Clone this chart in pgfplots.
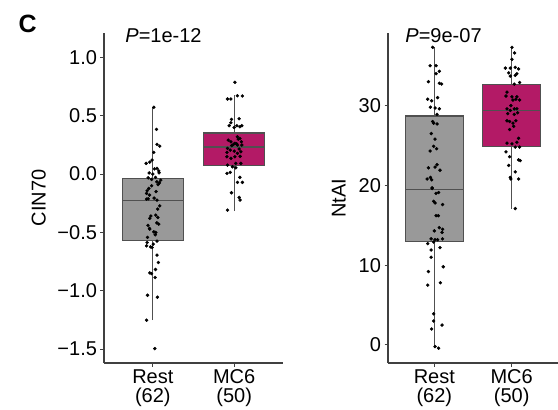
\documentclass[border=0pt]{standalone}
\usepackage{fontspec}
\setmainfont{Liberation Sans}
\usepackage{pgfplots}
\pgfplotsset{compat=1.18}
\usepgfplotslibrary{statistics}

\definecolor{boxgray}{HTML}{999999}
\definecolor{boxedge}{HTML}{505050}
\definecolor{mcpink}{HTML}{B31A66}
\definecolor{axiscol}{HTML}{404040}
\newcommand\ff{\fontsize{20bp}{19bp}\selectfont}

\pgfplotsset{
  panel/.style={
    scale only axis,
    height=330bp,
    xmin=0.4, xmax=2.6,
    axis x line*=bottom, axis y line*=left,
    axis line style={line width=1.2bp, axiscol, -},
    tick align=outside,
    major tick length=3.5bp,
    tick style={line width=1bp, axiscol},
    xtick={1,2},
    xticklabels={{Rest\\(62)},{MC6\\(50)}},
    xticklabel style={align=center, font=\ff},
    yticklabel style={font=\ff},
    ylabel style={font=\ff, anchor=center},
    clip=false,
    boxplot/draw direction=y,
  },
  bx/.style={draw=boxedge, line width=1.1bp},
  pts/.style={only marks, mark=*, mark size=1.5bp, black},
}

\begin{document}
\begin{tikzpicture}
\useasboundingbox (-104bp,-47bp) rectangle (454bp,363bp);
\node[anchor=base west, font=\fontsize{25bp}{25bp}\selectfont\bfseries] at (-89bp,330bp) {C};

% left panel: CIN70
\begin{axis}[panel, width=179bp,
  ymin=-1.62, ymax=1.21,
  ytick={-1.5,-1,-0.5,0,0.5,1},
  yticklabels={−1.5,−1.0,−0.5,0.0,0.5,1.0},
  ylabel={CIN70},
  ylabel style={at={(axis description cs:-0.365,0.5)}},
]
\addplot[bx, fill=boxgray, boxplot prepared={draw position=1, box extend=0.75, whisker extend=0,
  lower whisker=-1.253, lower quartile=-0.567, median=-0.223,
  upper quartile=-0.034, upper whisker=0.575}] coordinates {};
\addplot[bx, fill=mcpink, boxplot prepared={draw position=2, box extend=0.75, whisker extend=0,
  lower whisker=-0.318, lower quartile=0.077, median=0.232,
  upper quartile=0.352, upper whisker=0.678}] coordinates {};
% Rest (62)
\addplot[pts] coordinates {
  (1.012,0.573) (1.045,0.384) (1.052,0.255) (1.085,0.240) (1.012,0.186)
  (0.991,0.120) (0.918,0.092) (0.963,0.103) (1.052,0.049) (1.073,0.028)
  (1.000,0.000) (1.077,0.011) (0.943,-0.032) (0.984,-0.046) (1.033,-0.028)
  (1.098,-0.052) (1.049,-0.066) (1.081,-0.075) (0.951,-0.123) (0.930,-0.143)
  (0.923,-0.166) (0.923,-0.215) (0.943,-0.212) (1.016,-0.206) (1.052,-0.223)
  (1.085,-0.272) (0.976,-0.360) (1.037,-0.352) (1.061,-0.372) (0.963,-0.380)
  (1.049,-0.418) (1.073,-0.429) (0.959,-0.466)
  (0.963,-0.472) (1.012,-0.495) (1.037,-0.500) (0.935,-0.543) (0.930,-0.586)
  (1.052,-0.575) (0.923,-0.615) (0.972,-0.624) (0.991,-0.629) (1.052,-0.695)
  (1.069,-0.758) (1.033,-0.818) (0.963,-0.847) (0.984,-0.853) (1.028,-0.887)
  (0.935,-1.039) (1.057,-1.056) (0.923,-1.253) (1.024,-1.496)
  (0.955,0.010) (1.020,0.045) (1.065,-0.090) (0.985,-0.100) (1.040,-0.150)
  (0.960,-0.180) (1.005,-0.600) (1.060,-0.300) (0.940,-0.440) (1.030,-0.520)
};
% MC6 (50)
\addplot[pts] coordinates {
  (2.009,0.787) (1.918,0.644) (1.960,0.644) (2.040,0.672) (2.101,0.670)
  (1.967,0.470) (2.061,0.475) (1.960,0.440) (1.939,0.415) (2.000,0.400)
  (2.033,0.415) (2.070,0.406) (2.094,0.415) (2.040,0.320) (2.070,0.306)
  (1.927,0.292) (1.960,0.277) (2.009,0.264) (1.991,0.255) (2.040,0.249)
  (2.089,0.277) (2.094,0.249) (1.918,0.220) (1.951,0.206) (1.911,0.186)
  (2.000,0.197) (2.061,0.215) (2.040,0.178) (2.082,0.191) (1.911,0.149)
  (1.960,0.135) (2.009,0.149) (2.073,0.152) (1.918,0.077) (2.020,0.092)
  (2.082,0.092) (1.979,0.063) (2.020,0.054) (1.911,0.006) (1.951,0.015)
  (2.070,-0.028) (2.040,-0.071) (2.101,-0.071) (1.967,-0.160) (2.061,-0.200)
  (2.073,-0.223) (1.918,-0.309) (2.050,0.300) (1.970,0.245) (2.030,0.260)
};
\node[anchor=base west, font=\ff] at (rel axis cs:0.10,0.97) {\textit{P}=1e-12};
\end{axis}

% right panel: NtAI
\begin{axis}[panel, width=170bp, at={(284bp,0bp)},
  ymin=-2.26, ymax=39.1,
  ytick={0,10,20,30},
  yticklabels={0,10,20,30},
  ylabel={NtAI},
  ylabel style={at={(axis description cs:-0.29,0.5)}},
]
\addplot[bx, fill=boxgray, boxplot prepared={draw position=1, box extend=0.75, whisker extend=0,
  lower whisker=-0.4, lower quartile=13.0, median=19.5,
  upper quartile=28.7, upper whisker=37.3}] coordinates {};
\addplot[bx, fill=mcpink, boxplot prepared={draw position=2, box extend=0.75, whisker extend=0,
  lower whisker=17.1, lower quartile=24.9, median=29.4,
  upper quartile=32.7, upper whisker=37.3}] coordinates {};
% Rest (62)
\addplot[pts] coordinates {
  (0.978,37.3) (0.945,35.0) (1.022,35.0) (1.064,34.3) (1.022,34.0)
  (0.923,33.0) (1.064,32.8) (1.094,32.7) (0.914,30.8) (0.965,30.6)
  (1.042,31.0) (0.949,29.8) (1.009,29.7) (1.064,29.6) (1.035,28.9)
  (0.978,28.0) (0.991,27.8) (1.035,27.7) (1.009,25.8) (0.991,24.9)
  (1.029,24.6) (0.945,24.3) (0.923,22.2) (1.009,22.3) (1.073,21.9)
  (1.035,22.6) (0.906,20.8) (0.949,21.0) (0.965,20.7) (0.971,19.7)
  (0.971,19.6) (1.022,19.0) (1.055,19.1) (0.991,18.0) (1.009,17.8)
  (1.106,17.6) (1.022,16.2) (1.051,16.2) (1.064,14.7) (1.000,14.3)
  (1.106,14.5) (1.099,14.1) (0.958,13.3) (1.009,13.2) (1.042,13.2)
  (1.106,13.3) (0.914,12.7) (0.991,12.9) (1.073,12.2) (0.958,11.9)
  (0.958,11.0) (1.115,9.8) (0.923,9.2) (1.077,7.8) (0.914,7.5)
  (0.991,3.9) (0.991,3.0) (1.099,2.5) (0.965,2.0) (1.009,-0.2)
  (1.055,-0.4) (0.960,26.5)
};
% MC6 (50)
\addplot[pts] coordinates {
  (2.004,37.3) (2.038,36.6) (2.004,35.8) (1.919,34.7) (1.983,34.7)
  (2.047,34.8) (2.090,34.6) (1.962,34.1) (2.068,34.0) (1.983,33.7)
  (2.047,33.8) (2.034,32.7) (2.103,32.9) (1.940,31.7) (2.004,31.1)
  (2.068,31.1) (1.927,31.2) (2.103,30.7) (2.055,30.8) (2.017,30.7)
  (1.940,29.6) (1.983,29.4) (2.034,29.6) (2.068,29.6) (1.949,29.0)
  (2.034,28.9) (2.077,29.1) (1.940,28.1) (1.974,28.0) (2.017,27.8)
  (2.055,28.1) (2.026,27.4) (1.974,27.0) (2.090,25.9) (2.068,25.4)
  (1.940,25.3) (2.004,25.2) (2.103,24.8) (2.047,24.8) (1.927,24.2)
  (1.974,23.6) (2.090,23.2) (2.112,23.1) (1.962,22.5) (2.047,21.7)
  (1.983,21.0) (1.991,20.8) (2.090,20.8) (2.047,17.1) (1.990,30.0)
};
\node[anchor=base west, font=\ff] at (rel axis cs:0.082,0.97) {\textit{P}=9e-07};
\end{axis}
\end{tikzpicture}
\end{document}
